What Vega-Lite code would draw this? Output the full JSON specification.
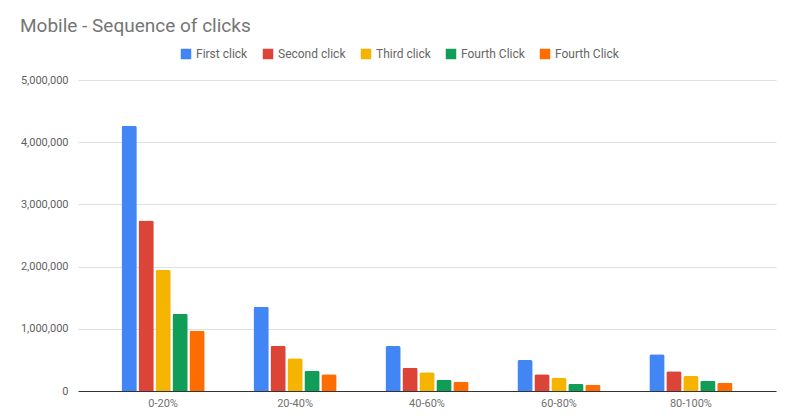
{
  "$schema": "https://vega.github.io/schema/vega-lite/v6.json",
  "title": {
    "text": "Mobile - Sequence of clicks",
    "anchor": "start",
    "frame": "group",
    "dx": -58,
    "dy": -8,
    "font": "Roboto",
    "fontSize": 19,
    "fontWeight": "normal",
    "color": "#757575"
  },
  "width": 698,
  "height": 311,
  "autosize": {"type": "none"},
  "padding": {"left": 78, "top": 80, "right": 24, "bottom": 27},
  "background": "#ffffff",
  "view": {"stroke": null},
  "config": {
    "font": "Roboto",
    "axis": {"labelFont": "Roboto", "labelColor": "#5f5f5f", "labelFontSize": 11}
  },
  "data": {
    "values": [
      {"range": "0-20%", "series": "First click", "value": 4265000},
      {"range": "0-20%", "series": "Second click", "value": 2740000},
      {"range": "0-20%", "series": "Third click", "value": 1945000},
      {"range": "0-20%", "series": "Fourth Click", "value": 1243000},
      {"range": "0-20%", "series": "Fourth Click (2)", "value": 970000},
      {"range": "20-40%", "series": "First click", "value": 1355000},
      {"range": "20-40%", "series": "Second click", "value": 728000},
      {"range": "20-40%", "series": "Third click", "value": 525000},
      {"range": "20-40%", "series": "Fourth Click", "value": 326000},
      {"range": "20-40%", "series": "Fourth Click (2)", "value": 268000},
      {"range": "40-60%", "series": "First click", "value": 723000},
      {"range": "40-60%", "series": "Second click", "value": 375000},
      {"range": "40-60%", "series": "Third click", "value": 300000},
      {"range": "40-60%", "series": "Fourth Click", "value": 180000},
      {"range": "40-60%", "series": "Fourth Click (2)", "value": 150000},
      {"range": "60-80%", "series": "First click", "value": 498000},
      {"range": "60-80%", "series": "Second click", "value": 268000},
      {"range": "60-80%", "series": "Third click", "value": 209000},
      {"range": "60-80%", "series": "Fourth Click", "value": 118000},
      {"range": "60-80%", "series": "Fourth Click (2)", "value": 100000},
      {"range": "80-100%", "series": "First click", "value": 590000},
      {"range": "80-100%", "series": "Second click", "value": 317000},
      {"range": "80-100%", "series": "Third click", "value": 241000},
      {"range": "80-100%", "series": "Fourth Click", "value": 166000},
      {"range": "80-100%", "series": "Fourth Click (2)", "value": 134000}
    ]
  },
  "mark": {"type": "bar", "cornerRadiusTopLeft": 2, "cornerRadiusTopRight": 2},
  "encoding": {
    "x": {
      "field": "range",
      "type": "nominal",
      "sort": null,
      "scale": {"paddingInner": 0.37, "paddingOuter": 0.33},
      "axis": {
        "title": null,
        "labelAngle": 0,
        "ticks": false,
        "domainColor": "#333333",
        "domainWidth": 1,
        "labelPadding": 6,
        "labelFontSize": 11,
        "labelColor": "#6f6f6f"
      }
    },
    "xOffset": {
      "field": "series",
      "type": "nominal",
      "sort": null,
      "scale": {"paddingInner": 0.1}
    },
    "y": {
      "field": "value",
      "type": "quantitative",
      "scale": {"domain": [0, 5000000]},
      "axis": {
        "title": null,
        "values": [0, 1000000, 2000000, 3000000, 4000000, 5000000],
        "format": ",d",
        "ticks": false,
        "domain": false,
        "gridColor": "#e0e0e0",
        "labelPadding": 10
      }
    },
    "color": {
      "field": "series",
      "type": "nominal",
      "sort": null,
      "scale": {"range": ["#4285f4", "#db4437", "#f4b400", "#0f9d58", "#ff6d01"]},
      "legend": {
        "title": null,
        "orient": "none",
        "direction": "horizontal",
        "legendX": 102,
        "legendY": -32,
        "symbolType": "square",
        "symbolSize": 110,
        "symbolStrokeWidth": 0,
        "symbolOpacity": 1,
        "labelFont": "Roboto",
        "labelFontSize": 12,
        "labelColor": "#666666",
        "columnPadding": 14,
        "labelExpr": "datum.label == 'Fourth Click (2)' ? 'Fourth Click' : datum.label"
      }
    }
  }
}
